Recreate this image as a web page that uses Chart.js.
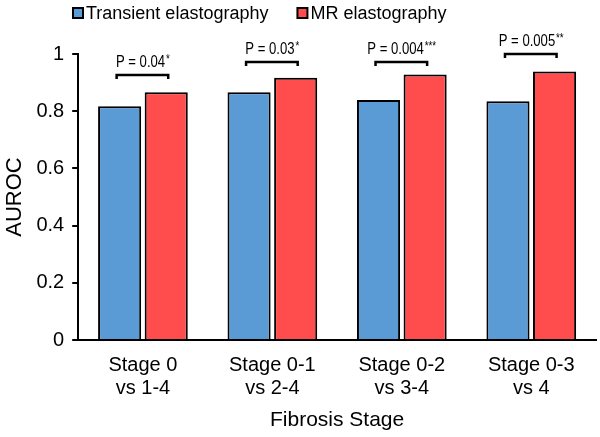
<!DOCTYPE html>
<html>
<head>
<meta charset="utf-8">
<script src="https://cdn.jsdelivr.net/npm/chart.js@4.4.1/dist/chart.umd.min.js"></script>
<style>
  html, body { margin: 0; padding: 0; background: #fff; }
  #wrap { width: 600px; height: 437px; position: relative; }
</style>
</head>
<body>
<div id="wrap"><canvas id="chart"></canvas></div>
<script>
const stages = [['Stage 0', 'vs 1-4'], ['Stage 0-1', 'vs 2-4'], ['Stage 0-2', 'vs 3-4'], ['Stage 0-3', 'vs 4']];
const transientAuroc = [0.817, 0.866, 0.839, 0.835];
const mrAuroc = [0.866, 0.917, 0.928, 0.939];
const pValues = ['0.04', '0.03', '0.004', '0.005'];
const pStars = ['*', '*', '***', '**'];
const bracketLevels = [0.927, 0.972, 0.972, 1.0];

const FONT = "'Liberation Sans', Arial, sans-serif";
const BLUE = '#5B9BD5';
const RED = '#FF4D4D';

// legend drawn by hand so it can sit left of centre like the original
const topLegend = {
  id: 'topLegend',
  afterDraw(chart) {
    const ctx = chart.ctx;
    let x = 73;
    const y = 13;
    ctx.save();
    ctx.font = '18px ' + FONT;
    ctx.textBaseline = 'middle';
    chart.data.datasets.forEach((ds) => {
      ctx.fillStyle = ds.backgroundColor;
      ctx.fillRect(x, y - 5, 10, 10);
      ctx.lineWidth = 2;
      ctx.strokeStyle = '#000';
      ctx.strokeRect(x, y - 5, 10, 10);
      ctx.fillStyle = '#000';
      ctx.fillText(ds.label, x + 13, y + 1);
      x += 13 + ctx.measureText(ds.label).width + 29;
    });
    ctx.restore();
  }
};

const pBrackets = {
  id: 'pBrackets',
  afterDatasetsDraw(chart) {
    const ctx = chart.ctx;
    const m0 = chart.getDatasetMeta(0).data;
    const m1 = chart.getDatasetMeta(1).data;
    const yScale = chart.scales.y;
    const sx = 0.82;
    ctx.save();
    pValues.forEach((p, i) => {
      const x0 = m0[i].x - 3;
      const x1 = m1[i].x + 2;
      const y = yScale.getPixelForValue(bracketLevels[i]);
      ctx.strokeStyle = '#000';
      ctx.lineWidth = 2.5;
      ctx.beginPath();
      ctx.moveTo(x0, y + 4);
      ctx.lineTo(x0, y);
      ctx.lineTo(x1, y);
      ctx.lineTo(x1, y + 4);
      ctx.stroke();

      const cx = (x0 + x1) / 2;
      const main = 'P = ' + p;
      ctx.font = '16px ' + FONT;
      const mw = ctx.measureText(main).width * sx;
      ctx.font = '12px ' + FONT;
      const sw = ctx.measureText(pStars[i]).width * sx;
      const start = cx - (mw + sw) / 2;
      ctx.fillStyle = '#000';
      ctx.textBaseline = 'alphabetic';
      ctx.textAlign = 'left';
      ctx.save();
      ctx.translate(start, y - 8);
      ctx.scale(sx, 1);
      ctx.font = '16px ' + FONT;
      ctx.fillText(main, 0, 0);
      ctx.font = '12px ' + FONT;
      ctx.fillText(pStars[i], mw / sx + 1, -4);
      ctx.restore();
    });
    ctx.restore();
  }
};

new Chart(document.getElementById('chart'), {
  type: 'bar',
  data: {
    labels: stages,
    datasets: [
      {
        label: 'Transient elastography',
        data: transientAuroc,
        backgroundColor: BLUE,
        borderColor: '#000',
        borderWidth: 2,
        barPercentage: 0.925,
        categoryPercentage: 0.72
      },
      {
        label: 'MR elastography',
        data: mrAuroc,
        backgroundColor: RED,
        borderColor: '#000',
        borderWidth: 2,
        barPercentage: 0.925,
        categoryPercentage: 0.72
      }
    ]
  },
  options: {
    responsive: true,
    maintainAspectRatio: false,
    animation: false,
    layout: { padding: { top: 54, right: 4, bottom: 4, left: 0 } },
    scales: {
      x: {
        grid: { display: false, drawTicks: false },
        border: { color: '#000', width: 2 },
        ticks: {
          color: '#000',
          padding: 14,
          maxRotation: 0,
          font: { family: FONT, size: 20, lineHeight: 1.15 }
        },
        title: {
          display: true,
          text: 'Fibrosis Stage',
          color: '#000',
          font: { family: FONT, size: 21 },
          padding: { top: 0, bottom: 0 }
        },
        afterFit(scale) {
          scale.height = 93;
        }
      },
      y: {
        min: 0,
        max: 1,
        ticks: {
          stepSize: 0.2,
          color: '#000',
          padding: 8,
          font: { family: FONT, size: 20 },
          callback: (v) => String(Math.round(v * 10) / 10)
        },
        grid: {
          drawOnChartArea: false,
          color: '#000',
          lineWidth: 2,
          tickLength: 6
        },
        border: { color: '#000', width: 2 },
        title: {
          display: true,
          text: 'AUROC',
          color: '#000',
          font: { family: FONT, size: 22 },
          padding: { top: 2, bottom: 0 }
        }
      }
    },
    plugins: {
      legend: { display: false },
      tooltip: { enabled: false }
    }
  },
  plugins: [topLegend, pBrackets]
});
</script>
</body>
</html>
